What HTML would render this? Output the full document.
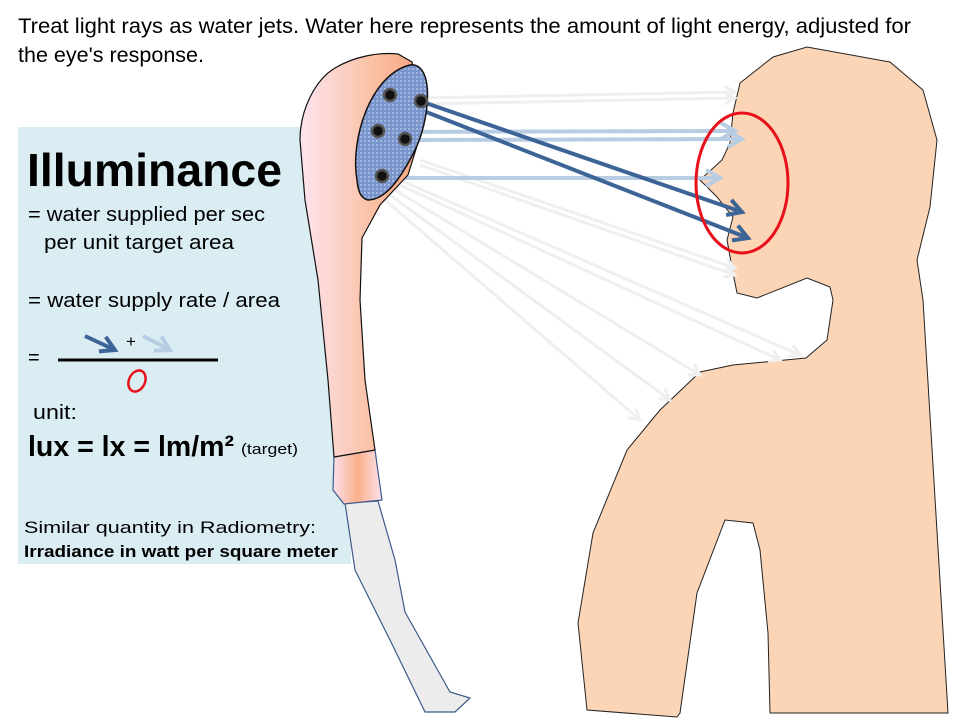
<!DOCTYPE html>
<html><head><meta charset="utf-8"><style>
html,body{margin:0;padding:0;background:#fff;}
svg{display:block;font-family:"Liberation Sans",Arial,sans-serif;}
</style></head><body>
<svg width="960" height="720" viewBox="0 0 960 720" xmlns="http://www.w3.org/2000/svg">
<defs>
<linearGradient id="arm" x1="0" x2="1" y1="0" y2="0">
<stop offset="0" stop-color="#fde4f0"/><stop offset="0.6" stop-color="#fbc0a2"/><stop offset="1" stop-color="#f6a07c"/>
</linearGradient>
<linearGradient id="slv" x1="0" x2="1"><stop offset="0" stop-color="#fde0ec"/><stop offset="0.5" stop-color="#f8b08a"/><stop offset="1" stop-color="#fde0ec"/></linearGradient>
<pattern id="dots" width="4" height="4" patternUnits="userSpaceOnUse"><rect width="4" height="4" fill="#7a95cc"/><rect width="2" height="2" fill="#a5b9e0"/></pattern>
<marker id="hd" viewBox="0 0 10 10" refX="8" refY="5" markerWidth="5" markerHeight="5" orient="auto"><path d="M1,1 L8,5 L1,9" fill="none" stroke="#3d6497" stroke-width="2"/></marker>
<marker id="hl" viewBox="0 0 10 10" refX="8" refY="5" markerWidth="5" markerHeight="5" orient="auto"><path d="M1,1 L8,5 L1,9" fill="none" stroke="#b8cce4" stroke-width="2"/></marker>
<marker id="hg" viewBox="0 0 10 10" refX="8" refY="5" markerWidth="5" markerHeight="5" orient="auto"><path d="M1,1 L8,5 L1,9" fill="none" stroke="#efefef" stroke-width="2"/></marker>
</defs>

<rect x="18" y="127" width="333" height="437" fill="#daedf3"/>

<path d="M773,57 L807,47 L890,62 L923,90 L937,140 L930,207 L917,260 L923,300 L948,713 L770,713 L768,633 L760,550 L753,523 L725,520 L697,593 L680,713 L677,717 L587,710 L578,623 L593,533 L627,450 L660,410 L700,372 L733,365 L806,358 L827,340 L833,300 L830,287 L807,278 L757,298 L737,293 L733,273 L727,240 L733,217 L717,197 L700,180 L722,160 L730,143 L733,113 L740,83 Z" fill="#fbd5b5" stroke="#222" stroke-width="1"/>

<g stroke="#efefef" stroke-width="3" fill="none" marker-end="url(#hg)">
<line x1="420" y1="98" x2="735" y2="92"/>
<line x1="420" y1="104" x2="735" y2="98"/>
<line x1="420" y1="160" x2="735" y2="268"/>
<line x1="420" y1="165" x2="735" y2="275"/>
<line x1="400" y1="180" x2="800" y2="355"/>
<line x1="400" y1="185" x2="780" y2="360"/>
<line x1="395" y1="190" x2="700" y2="375"/>
<line x1="390" y1="195" x2="670" y2="400"/>
<line x1="385" y1="200" x2="640" y2="420"/>
</g>

<g stroke="#b8cce4" stroke-width="4" fill="none" marker-end="url(#hl)">
<line x1="378" y1="132" x2="735" y2="131"/>
<line x1="405" y1="140" x2="742" y2="139"/>
<line x1="384" y1="178" x2="720" y2="178"/>
</g>
<g stroke="#3d6497" stroke-width="4" fill="none" marker-end="url(#hd)">
<line x1="388" y1="97" x2="748" y2="238"/>
<line x1="420" y1="101" x2="742" y2="212"/>
</g>

<ellipse cx="742" cy="183" rx="46" ry="70" fill="none" stroke="#e8101a" stroke-width="3"/>

<path d="M345,503 L378,501 L395,560 L405,612 L450,692 L470,698 L455,712 L425,712 L390,640 L355,570 Z" fill="#ececec" stroke="#3d5a8a" stroke-width="1.2"/>
<path d="M334,457 L375,450 L382,500 L344,504 L333,490 Z" fill="url(#slv)" stroke="#3d5a8a" stroke-width="1.2"/>
<path d="M334,457 L328,380 L318,280 L305,200 L300,140 C300,110 315,80 335,68 C355,56 380,52 398,54 L412,62 L425,120 L408,175 L380,205 L362,238 L360,300 L365,380 L375,450 Z" fill="url(#arm)" stroke="#111" stroke-width="1.2"/>
<path d="M357,180 C350,140 370,75 410,65 C435,62 430,120 415,150 C400,180 385,200 368,200 C360,198 358,190 357,180 Z" fill="url(#dots)" stroke="#111" stroke-width="1.5"/>
<g fill="#111" stroke="#555" stroke-width="2.5">
<circle cx="390" cy="95" r="6"/><circle cx="421" cy="101" r="6"/>
<circle cx="378" cy="131" r="6"/><circle cx="405" cy="139" r="6"/>
<circle cx="382" cy="176" r="6"/>
</g>

<text x="18" y="33" font-size="21" textLength="893" lengthAdjust="spacingAndGlyphs">Treat light rays as water jets. Water here represents the amount of light energy, adjusted for</text>
<text x="18" y="62" font-size="21" textLength="186" lengthAdjust="spacingAndGlyphs">the eye's response.</text>
<text x="27" y="186" font-size="46" font-weight="bold" textLength="255" lengthAdjust="spacingAndGlyphs">Illuminance</text>
<text x="28" y="221" font-size="20" textLength="237" lengthAdjust="spacingAndGlyphs">= water supplied per sec</text>
<text x="44" y="249" font-size="20" textLength="190" lengthAdjust="spacingAndGlyphs">per unit target area</text>
<text x="28" y="307" font-size="20" textLength="252" lengthAdjust="spacingAndGlyphs">= water supply rate / area</text>
<text x="28" y="364" font-size="20">=</text>
<line x1="58" y1="360" x2="218" y2="360" stroke="#000" stroke-width="3"/>
<line x1="85" y1="336" x2="115" y2="350" stroke="#3d6497" stroke-width="4" marker-end="url(#hd)"/>
<line x1="143" y1="336" x2="170" y2="350" stroke="#b8cce4" stroke-width="4" marker-end="url(#hl)"/>
<text x="126" y="347" font-size="17">+</text>
<ellipse cx="137" cy="381" rx="8" ry="11" transform="rotate(25 137 381)" fill="none" stroke="#e8101a" stroke-width="2.5"/>
<text x="33" y="419" font-size="20" textLength="44" lengthAdjust="spacingAndGlyphs">unit:</text>
<text x="28" y="456" font-size="29" font-weight="bold" textLength="206" lengthAdjust="spacingAndGlyphs">lux = lx = lm/m²</text>
<text x="241" y="454" font-size="15" textLength="57" lengthAdjust="spacingAndGlyphs">(target)</text>
<text x="24" y="533" font-size="17" textLength="292" lengthAdjust="spacingAndGlyphs">Similar quantity in Radiometry:</text>
<text x="24" y="557" font-size="17" font-weight="bold" textLength="314" lengthAdjust="spacingAndGlyphs">Irradiance in watt per square meter</text>
</svg>
</body></html>
